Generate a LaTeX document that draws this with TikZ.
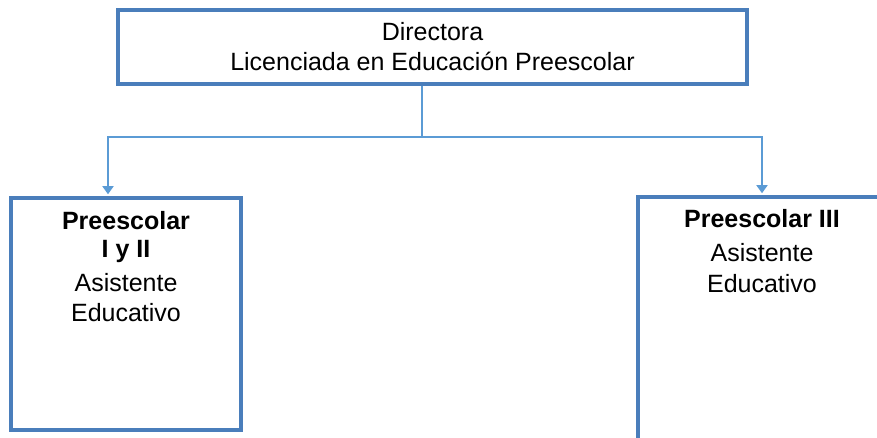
\documentclass[tikz,border=0pt]{standalone}
\usepackage{fontspec}
\setmainfont{Liberation Sans}
\usetikzlibrary{positioning, arrows.meta}
\definecolor{boxblue}{HTML}{4A7EBB}
\definecolor{linkblue}{HTML}{5B9BD5}
\tikzset{
  orgbox/.style={draw=boxblue, line width=3.5pt, inner sep=0pt},
  orgtext/.style={align=center, inner sep=0pt, font=\fontsize{25}{30}\selectfont},
  link/.style={draw=linkblue, line width=1.5pt},
  linkarrow/.style={link, -{Triangle[width=11pt, length=8pt]}, shorten >=2pt}
}

\begin{document}
\begin{tikzpicture}[x=1pt, y=-1pt]
      \useasboundingbox (0,0) rectangle (877,438);
      \clip (0,0) rectangle (877,438);
      \node[orgbox, orgtext, minimum width=629pt, minimum height=74pt] (dir) at (432.5,47) {Directora\\Licenciada en Educación Preescolar};
      \node[orgbox, minimum width=230pt, minimum height=232pt] (leftbox) at (126,314) {};
      \node[orgbox, minimum width=248pt, minimum height=253pt] (rightbox) at (762,323.5) {};
      \node[orgtext, anchor=north] (lefttext) at (126,211) {\textbf{Preescolar}\\[-2pt]\textbf{I y II}\\[4pt]Asistente\\Educativo};
      \node[orgtext, anchor=north] (righttext) at (762,209) {\textbf{Preescolar III}\\[4pt]Asistente\\[1pt]Educativo};
      \coordinate (split) at (422,137);
      \draw[link] (dir.south -| split) -- (split);
      \draw[linkarrow] (split) -| ([xshift=-18pt]leftbox.north);
      \draw[linkarrow] (split) -| (rightbox.north);
    \end{tikzpicture}
\end{document}
